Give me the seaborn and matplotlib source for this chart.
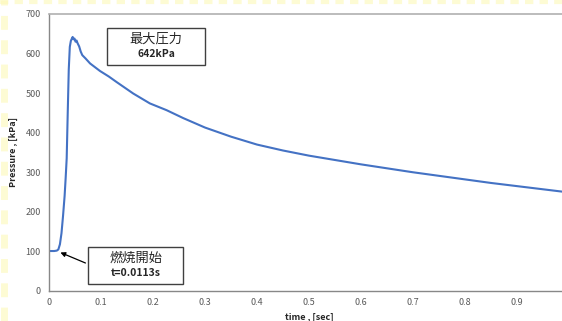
import matplotlib
matplotlib.use("Agg")
import matplotlib.pyplot as plt
from matplotlib.lines import Line2D
import seaborn as sns
import pandas as pd

# pressure trace
time_s = [0.0, 0.005, 0.010, 0.015, 0.018, 0.021, 0.024, 0.027, 0.030, 0.032,
          0.034, 0.036, 0.038, 0.040, 0.042, 0.044, 0.0455, 0.047, 0.049, 0.051,
          0.053, 0.055, 0.058, 0.061, 0.064, 0.070, 0.079, 0.090, 0.098, 0.115,
          0.130, 0.162, 0.194, 0.226, 0.258, 0.30, 0.35, 0.40, 0.45, 0.50,
          0.55, 0.60, 0.65, 0.70, 0.75, 0.80, 0.85, 0.90, 0.95, 1.00]
pressure_kpa = [101, 101, 101, 102, 105, 118, 146, 190, 240, 285,
                335, 450, 560, 617, 632, 638, 642, 636, 638, 630,
                633, 626, 618, 605, 596, 588, 575, 564, 556, 542,
                528, 499, 474, 457, 437, 413, 390, 370, 355, 342,
                331, 320, 310, 300, 291, 282, 273, 265, 257, 249]

df = pd.DataFrame({"time": time_s, "pressure": pressure_kpa})

peak_title = "最大圧力"
peak_text = "642kPa"
start_title = "燃焼開始"
start_text = "t=0.0113s"
x_ticks = [0, 0.1, 0.2, 0.3, 0.4, 0.5, 0.6, 0.7, 0.8, 0.9]
x_ticklabels = ["0", "0.1", "0.2", "0.3", "0.4", "0.5", "0.6", "0.7", "0.8", "0.9"]
y_ticks = [0, 100, 200, 300, 400, 500, 600, 700]

sns.set_style("white")
plt.rcParams["font.family"] = ["Noto Sans CJK JP", "DejaVu Sans"]

fig = plt.figure(figsize=(5.62, 3.21), dpi=100)
ax = fig.add_axes([0.0872, 0.0935, 0.9253, 0.8629])

sns.lineplot(data=df, x="time", y="pressure", ax=ax, color="#4472C4", linewidth=1.5)

ax.set_xlim(0, 1)
ax.set_ylim(0, 700)
ax.set_xticks(x_ticks)
ax.set_xticklabels(x_ticklabels)
ax.set_yticks(y_ticks)
ax.tick_params(axis="x", direction="in", length=3, color="#888888", labelsize=6.5,
               labelcolor="#595959", pad=5)
ax.tick_params(axis="y", direction="out", length=3, color="#888888", labelsize=6.5,
               labelcolor="#595959", pad=3)

for side in ["left", "bottom"]:
    ax.spines[side].set_color("#888888")
    ax.spines[side].set_linewidth(1.0)
ax.spines["right"].set_visible(False)
ax.spines["top"].set_color("#b0b0b0")
ax.spines["top"].set_linewidth(1.2)

ax.set_xlabel("time , [sec]", fontsize=6.5, fontweight="bold", labelpad=4)
ax.set_ylabel("Pressure , [kPa]", fontsize=6.5, fontweight="bold", labelpad=5)

# peak pressure callout
ax.add_patch(plt.Rectangle((0.1115, 571), 0.189, 93, fill=False, edgecolor="#404040",
                           linewidth=1.0))
ax.text(0.206, 636, peak_title, fontsize=9.5, ha="center", va="center")
ax.text(0.206, 598, peak_text, fontsize=7.5, fontweight="bold", ha="center", va="center")

# ignition callout
ax.add_patch(plt.Rectangle((0.075, 18), 0.183, 93, fill=False, edgecolor="#404040",
                           linewidth=1.0))
ax.text(0.1665, 84, start_title, fontsize=9.5, ha="center", va="center")
ax.text(0.1665, 45, start_text, fontsize=7.5, fontweight="bold", ha="center", va="center")
ax.annotate("", xy=(0.017, 100), xytext=(0.075, 68),
            arrowprops=dict(arrowstyle="-|>", color="#000000", lw=0.9, mutation_scale=7))

# faint yellow dashed border, left and top
fig.add_artist(Line2D([0.007, 0.007], [0, 1], transform=fig.transFigure,
                      color="#fdf9b8", lw=5, dashes=(2, 1.5), alpha=0.6))
fig.add_artist(Line2D([0, 1], [0.995, 0.995], transform=fig.transFigure,
                      color="#fdf9b8", lw=3, dashes=(2, 1.5), alpha=0.6))

fig.savefig("out.png", dpi=100)
